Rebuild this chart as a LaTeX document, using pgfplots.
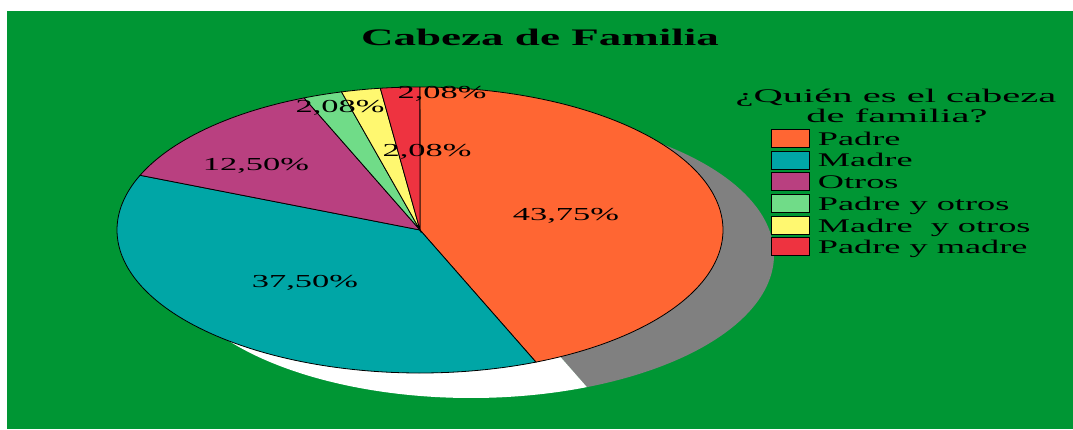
\documentclass[border=0pt]{standalone}
\usepackage{fontspec}
\setmainfont{Liberation Serif}
\usepackage{graphicx}
\usepackage{pgfplots}
\pgfplotsset{compat=1.18}
\definecolor{bggreen}{RGB}{0,150,52}
\definecolor{cPadre}{RGB}{255,102,51}
\definecolor{cMadre}{RGB}{0,166,166}
\definecolor{cOtros}{RGB}{185,64,128}
\definecolor{cPyO}{RGB}{112,220,136}
\definecolor{cMyO}{RGB}{255,248,112}
\definecolor{cPyM}{RGB}{238,51,64}
\definecolor{shgray}{RGB}{128,128,128}
\newcommand{\sx}[2][1.88]{\scalebox{#1}[1]{#2}}
% slice values (percent)
\def\vPadre{43.75}
\def\vMadre{37.50}
\def\vOtros{12.50}
\def\vPyO{2.08}
\def\vMyO{2.08}
\def\vPyM{2.08}
\begin{document}
\begin{tikzpicture}
\pgfmathsetmacro{\aO}{90}
\pgfmathsetmacro{\aA}{\aO-3.6*\vPadre}
\pgfmathsetmacro{\aB}{\aA-3.6*\vMadre}
\pgfmathsetmacro{\aC}{\aB-3.6*\vOtros}
\pgfmathsetmacro{\aD}{\aC-3.6*\vPyO}
\pgfmathsetmacro{\aE}{\aD-3.6*\vMyO}
\pgfmathsetmacro{\aF}{\aE-3.6*\vPyM}
\begin{axis}[
  scale only axis, width=1073pt, height=429pt,
  xmin=0, xmax=1073, ymin=0, ymax=429, y dir=reverse,
  hide axis, clip=false,
  variable=\t,
  legend cell align=left,
  legend image code/.code={\draw[#1,draw=black,line width=0.7pt] (0pt,-9pt) rectangle (38pt,9pt);},
  legend style={at={(axis cs:771,127.2)}, anchor=north west, draw=none, fill=none,
    inner xsep=0pt, inner ysep=0pt, column sep=8pt, row sep=0pt,
    nodes={inner sep=0pt, text height=17.85pt, text depth=3.85pt},
    font=\fontsize{19.3}{22}\selectfont},
]
% page extent
\path[use as bounding box] (axis cs:0,0) rectangle (axis cs:1073,429);
% background
\addplot[fill=bggreen, draw=none, forget plot] coordinates {(7,11) (1073,11) (1073,429) (7,429)} -- cycle;
% shadow
\addplot[fill=shgray, draw=none, forget plot, domain=\aA:\aO, samples=120] ({471+303*cos(\t)},{255-143*sin(\t)}) -- (axis cs:471,255) -- cycle;
\addplot[fill=white, draw=none, forget plot, domain=\aF:\aA, samples=160] ({471+303*cos(\t)},{255-143*sin(\t)}) -- (axis cs:471,255) -- cycle;
% pie
\addplot[fill=cPadre, draw=black, line width=0.8pt, domain=\aA:\aO, samples=120] ({420+303*cos(\t)},{230-143*sin(\t)}) -- (axis cs:420,230) -- cycle;
\addlegendentry{\sx{Padre}}
\addplot[fill=cMadre, draw=black, line width=0.8pt, domain=\aB:\aA, samples=120] ({420+303*cos(\t)},{230-143*sin(\t)}) -- (axis cs:420,230) -- cycle;
\addlegendentry{\sx{Madre}}
\addplot[fill=cOtros, draw=black, line width=0.8pt, domain=\aC:\aB, samples=40] ({420+303*cos(\t)},{230-143*sin(\t)}) -- (axis cs:420,230) -- cycle;
\addlegendentry{\sx{Otros}}
\addplot[fill=cPyO, draw=black, line width=0.8pt, domain=\aD:\aC, samples=10] ({420+303*cos(\t)},{230-143*sin(\t)}) -- (axis cs:420,230) -- cycle;
\addlegendentry{\sx{Padre y otros}}
\addplot[fill=cMyO, draw=black, line width=0.8pt, domain=\aE:\aD, samples=10] ({420+303*cos(\t)},{230-143*sin(\t)}) -- (axis cs:420,230) -- cycle;
\addlegendentry{\sx{Madre\ \ y otros}}
\addplot[fill=cPyM, draw=black, line width=0.8pt, domain=\aF:\aE, samples=10] ({420+303*cos(\t)},{230-143*sin(\t)}) -- (axis cs:420,230) -- cycle;
\addlegendentry{\sx{Padre y madre}}
% labels
\begin{scope}[every node/.style={anchor=base, inner sep=0pt, font=\fontsize{18.3}{22}\selectfont}]
\node at (axis cs:566,220) {\sx{43,75\%}};
\node at (axis cs:305,287) {\sx{37,50\%}};
\node at (axis cs:256,170) {\sx{12,50\%}};
\node at (axis cs:340,112) {\sx{2,08\%}};
\node at (axis cs:427,156) {\sx{2,08\%}};
\node at (axis cs:442,98) {\sx{2,08\%}};
\end{scope}
% title
\node[anchor=base, inner sep=0pt, font=\fontsize{23.7}{28}\selectfont\bfseries] at (axis cs:540,45) {\sx[1.9]{Cabeza de Familia}};
% legend title
\node[anchor=base, inner sep=0pt, font=\fontsize{19.3}{22}\selectfont] at (axis cs:896,102) {\sx[2.1]{¿Quién es el cabeza}};
\node[anchor=base, inner sep=0pt, font=\fontsize{19.3}{22}\selectfont] at (axis cs:897,122) {\sx[2.1]{de familia?}};
\end{axis}
\end{tikzpicture}
\end{document}
